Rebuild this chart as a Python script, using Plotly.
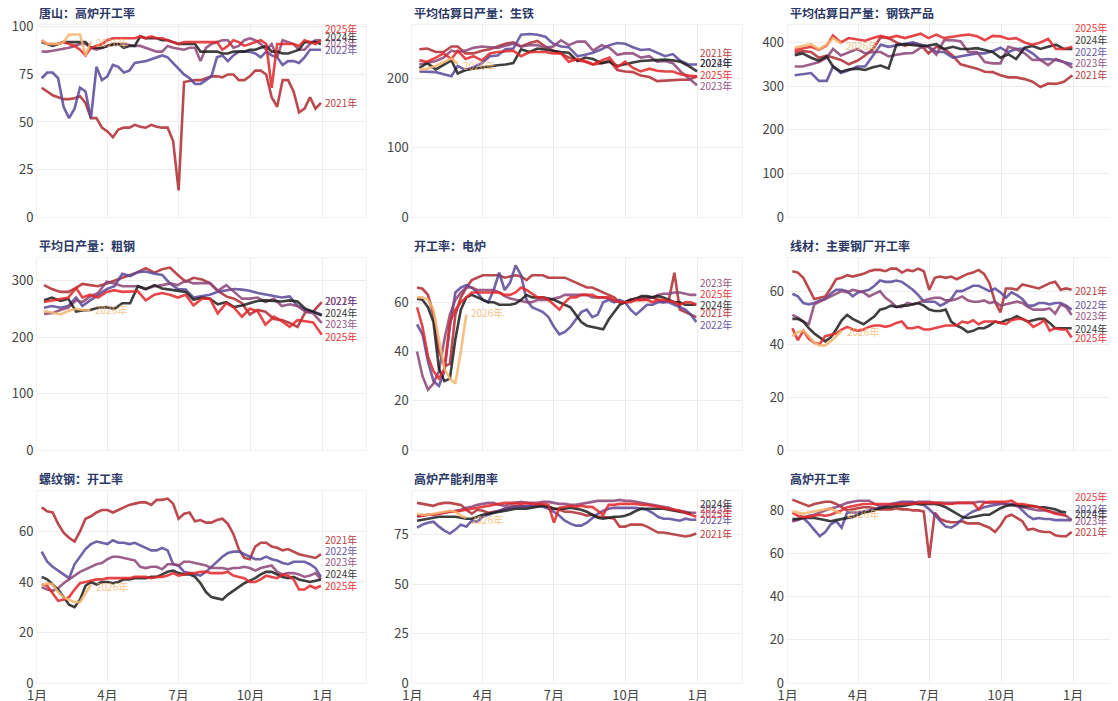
import pandas as pd
import plotly.graph_objects as go
from plotly.subplots import make_subplots

# ---- x grids (dummy year, every series plotted as "same year") ----
WEEKS = pd.date_range("2021-01-07", periods=53, freq="7D")
XUN = []
for m in range(1, 13):
    last = pd.Timestamp(2021, m, 1) + pd.offsets.MonthEnd(0)
    XUN += [pd.Timestamp(2021, m, 10), pd.Timestamp(2021, m, 20), last]

YEARS = [2021, 2022, 2023, 2024, 2025, 2026]

# ---- 唐山：高炉开工率 (weekly) ----
ts_2021 = [68,66,64,63,62,62,62.5,63.5,60,52,52,47,45,42,46,47,47,48.5,47.5,47,48.5,47.5,47,47,40,14,71,71.5,72,72,73,74,74,73.5,75,75,72,72,74,77,77,75,63,58,72,72,66,55,57,63,57,60]
ts_2022 = [73,76,76,73,58,52,57,68,66,52,79,72,74,80,79,76,77,81,81.5,82,83,84,85,84,81,78,75,73,70,70,72,74,84,85,82,85,87,87,87,86,84,87,85,84,80,82,82,81,84,88,88,88]
ts_2023 = [87,87,87.5,88,88.5,89,90,91,91,89,88,89,90,90.5,91,91,90.5,90,90,89,88,87,87,90,89,88.5,88,89,89,82,89,91,92,93,93,89,90,93,94,93,91,88,91,84,93,92,91,88,88,91,93,93]
ts_2024 = [92,91,90,91,92,92,92,92,92,89,89,89,90,91,91,89,90,90,95,94,94,94,93,93,92,91,91,91,91,87,87,87,87,86,86,87,87,87,88,88,89,90,87,87,86,86,87,88,92,92,92,91]
ts_2025 = [93,91,91,91,92,91,90,88,85,89,90,91,93,94,94,94,94,94,95,94,95,94,94,93,92,91,92,92,92,92,92,92,92,88,90,93,92,90,91,92,93,91,68,91,91,91,91,90,93,92,91,93]
ts_2026 = [93,91,91,91,92,96,96,96,85,92]

# ---- 平均估算日产量：生铁 (10-day) ----
pi_2021 = [242,243,238,238,246,246,236,236,240,242,246,250,252,246,251,254,246,240,236,230,226,224,220,222,226,212,210,209,204,202,196,197,198,198,198,203]
pi_2022 = [210,210,209,206,203,218,212,216,222,232,233,242,243,263,264,263,260,250,246,245,232,234,237,242,248,251,250,245,241,242,237,232,235,225,220,220]
pi_2023 = [220,222,225,230,240,238,240,244,246,245,244,247,250,246,248,248,244,246,255,248,253,253,240,248,244,234,236,236,230,232,224,225,222,210,200,190]
pi_2024 = [215,222,213,220,226,207,212,214,216,218,219,220,222,242,238,243,241,240,238,237,225,230,228,222,224,218,221,223,225,226,227,227,226,224,218,210]
pi_2025 = [226,224,230,236,228,240,228,232,226,236,238,239,240,232,238,238,238,236,236,224,228,225,220,226,230,216,224,215,210,214,211,210,210,206,204,203]
pi_2026 = [213,214,218,224,229,221]

# ---- 平均估算日产量：钢铁产品 (10-day) ----
sp_2021 = [377,380,378,365,370,366,360,350,358,370,385,412,410,400,392,398,395,375,390,385,370,350,345,340,333,332,325,320,320,316,310,298,306,305,310,325]
sp_2022 = [325,328,330,312,312,345,330,336,345,345,370,395,390,393,396,400,395,390,378,378,365,368,370,375,375,380,388,378,385,386,375,360,362,360,355,350]
sp_2023 = [345,345,350,355,365,385,370,378,385,375,378,378,368,372,375,376,388,390,372,405,405,403,378,378,355,352,352,390,385,375,360,360,348,362,355,342]
sp_2024 = [371,375,365,358,368,345,333,338,340,337,343,347,340,395,396,394,392,393,396,385,390,385,385,387,383,378,365,373,362,388,392,385,390,395,385,385]
sp_2025 = [383,386,390,383,393,416,400,410,406,404,410,415,410,415,410,415,420,410,418,410,414,416,418,414,405,415,414,408,410,400,395,400,408,385,385,390]
sp_2026 = [388,392,396,384,395,410,398]

# ---- 平均日产量：粗钢 (10-day) ----
cs_2021 = [292,285,280,280,287,294,292,290,295,300,305,310,315,322,314,320,323,310,298,305,302,295,282,272,268,260,240,248,245,232,230,225,218,244,245,262]
cs_2022 = [252,255,252,255,270,255,265,275,285,290,312,308,315,316,312,310,295,285,284,270,272,275,280,282,285,284,282,278,275,272,270,272,255,248,245,240]
cs_2023 = [241,242,248,252,265,262,272,278,298,295,290,290,290,285,290,292,295,292,300,295,295,296,282,292,280,268,268,270,262,268,255,258,255,245,242,225]
cs_2024 = [265,270,264,268,245,247,248,252,253,250,260,260,290,285,292,286,284,282,280,266,270,268,258,262,253,256,260,264,265,264,263,265,263,250,245,238]
cs_2025 = [262,265,268,270,287,270,275,270,280,283,280,280,281,265,275,278,275,270,275,256,268,268,242,260,252,236,250,246,222,236,228,218,230,228,226,204]
cs_2026 = [246,243,240,246,250,248,248]

# ---- 开工率：电炉 (weekly) ----
eaf_2021 = [66,65.5,63,55,40,34,35,55,62,66,69,70,71,71,71,71,70,70.5,71,70.5,69,71,71,71,70,70,70,70,69,68,67,66,66,65,64,63,62,60,60,61,61,61,61.5,62,61,60,61,72,57,56,55,54]
eaf_2022 = [51,47,36,28,26,32,50,64,66,67,66,64,61,60,65,72,65,68,75,71,61,58,57,56,54,50,47,48,50,53,56,57,54,55,60,61,60,61,60,57,55,57,59,59,60,60,60,59,58,57,55,52]
eaf_2023 = [40,30,24.5,27,32,45,55,61,64,66,66,65,65,65,65,64,62.5,61.5,61,60.5,60,60,61,61,61,61.5,62,63,63,63,63,63,62,62,62,61.5,60.5,60,60,61,61.5,62,62,62,63,63.5,63.5,64,64,63.5,63,63]
eaf_2024 = [61.5,61,58,52,33,28,29,45,57,62,63,62,61,60,60,59,59,59,59.5,61,63,62,62,62,61.5,61,60,59,58,55,52,50.5,50,49.5,49,53,56,59,60,61,61.5,62.5,62.5,62,62.5,62,61,60,60,59,59,59]
eaf_2025 = [58,50,38,32,29,33,52,57,60,62,64,64,64,64,64,64,63,63,64,66,65,63.5,62,62,61,59,57,60,62,62,63,63,63,62,62,62,61,60,60,60,61,61,61,60,61,61,60.5,60,59,60,60,59]
eaf_2026 = [62,62,61,57,45,33,29,27,40,55]

# ---- 线材：主要钢厂开工率 (weekly) ----
wr_2021 = [67.5,67,65,61,57,57.5,58,61,64.5,65,66,65.5,66,66.5,67.5,68,68,67.5,68.5,68.5,67,68,67.5,68.5,67.5,60.5,65,65.5,65,65.5,64.5,65.5,66.5,67,68,66.5,63,56,52,61,61,60.5,62.5,62,61.5,61,62,63,63.5,60.5,61,60.5]
wr_2022 = [59,58,55.5,55,55.5,56.5,57,59,60.5,60.5,60,58,59.5,60,60.5,62,64,63.5,63.5,64,63.5,62,60.5,58.5,56,56,56,54.5,55.5,57,60,60,61,62,62,61,60,61,59.5,57.5,59.5,58.5,57,54.5,54.5,55.5,55.5,55,55.5,55.5,54.5,53]
wr_2023 = [51,50,48.5,47.5,55,56,57,58,59,60,59.5,60.5,60,59.5,58,59,60,57.5,56,54,54,55.5,55,55.5,56.5,57,57.5,57.5,56.5,56.5,57,58,56.5,56,56,56.5,55.5,56,54.5,55,55.5,56,55.5,54,53,53,53,53.5,51.5,55,54,51]
wr_2024 = [49.5,49.5,48.5,46,44,42.5,41,42.5,45.5,49,51,49.5,48.5,47.5,49,50.5,53,53.5,54.5,54,54.5,54.5,55,55.5,54.5,53,52.5,52.5,53,48.5,47,46,44.5,45,46,46,47,48.5,48,49,49.5,50.5,49.5,48.5,49,49.5,49.5,48,46,46,46,46]
wr_2025 = [46,41.5,45,42,40.5,40,43,43.5,44,45.5,46.5,45.5,45,45.5,46.5,47,47,46.5,47,48,48.5,46,46,46.5,45.5,45.5,46,46.5,47,47,47,48.5,48,49,47.5,48.5,48.5,48.5,48,47.5,49,49.5,49.5,48.5,46.5,47.5,49,45,46,45.5,45.5,42.5]
wr_2026 = [43,44.5,45,43,40.5,39.5,39.5,41,43,45]

# ---- 螺纹钢：开工率 (weekly) ----
rb_2021 = [69.5,68,67.5,63,59.5,57.5,56,60,65,66,67.5,68.5,68.5,67.5,68.5,69.5,70.5,71,71.5,71.5,70.5,72.5,72.5,73,71,65,67,67.5,64,64.5,63.5,63.5,64.5,65,63,59,53,49.5,49,54,55.5,55.5,54,53.5,52.5,53,52,51,50.5,50,49.5,51]
rb_2022 = [52,48,46,44.5,43,41.5,47,50,53,55,56,55.5,55,56.5,55.5,55.5,55,55.5,54.5,53.5,52.5,52.5,53.5,52.5,47,46.5,44,43.5,43,42.5,44,46,48,50,51.5,52,52,51,50,49,49,50,49,48.5,47.5,47,48,48,48,47,45.5,42]
rb_2023 = [38,37,36.5,37.5,39.5,41,42.5,44,45,46,47,47.5,49,50,50,49.5,49,48.5,46,45.5,46,46,45,47,47,46.5,48,48,47.5,47,46.5,45.5,45.5,45.5,45,45.5,45.5,46,45.5,44.5,45.5,46,46.5,44,43,43.5,43.5,43,42,42.5,43.5,41]
rb_2024 = [42,41,39,37,34,31,30,33,38.5,40,39,40,40,39.5,40,41,41,41.5,41.5,41.5,42,42,43,44,44.5,43.5,43,43,42,39.5,36,34,33.5,33,35,36.5,38,39.5,40.5,41.5,43,44,44,43,42,41.5,42,41,40.5,40,40.5,41]
rb_2025 = [39,38.5,35.5,32.5,33,34,37,39.5,40,40.5,41,41,41.5,41.5,41.5,41.5,41.5,42,42,42,41.5,42,42,42.5,43.5,42.5,43,43.5,43.5,44,44,43.5,43.5,43.5,44,42.5,42,41.5,40,40,41,42.5,42,41.5,43,42.5,41,37,37,38.5,37.5,38.5]
rb_2026 = [38.5,39.5,39,36,34,33,32,32,35.5,39]

# ---- 高炉产能利用率 (weekly) ----
bc_2021 = [91,90.5,90,89.5,90.5,91,91,90.5,90,87.5,85.5,87.5,87,86,86.5,87,88,89,89.5,89.5,89,89.5,90,89.5,89,88,87.5,86.5,86.5,86,85.5,84.5,85,84,84,83.5,83,79,79,80,80,80,79,77.5,76,76,75.5,75,74.5,74,74.5,75.5]
bc_2022 = [78.5,80,81,81.5,79,77,75.5,77.5,80,79,82,81.5,84,85,86,87,88,88.5,89,89,89.5,89.5,89.5,89,88,86.5,84.5,82,80.5,79.5,79.5,81,83.5,85.5,87,88,88.5,88.5,88.5,88.5,88.5,88,87.5,86,84,83,83,82.5,82,83,82.5,82.5]
bc_2023 = [84,84.5,85,85,85.5,86,86.5,87,87.5,88.5,89,90,90.5,91,91,90,89.5,90.5,91,91.5,91,91,91,91.5,91.5,91,90.5,90.5,90,90,90.5,91,91.5,92,92,92,92,92.5,92,92,91.5,91,90.5,90,89.5,89,88.5,87.5,87,86.5,86,86]
bc_2024 = [82,82.5,83,83.5,84,84,84,84,83.5,83,83,84,85,85.5,86,86.5,87,87.5,88,88,88,88.5,89,89.5,89,88,88,88,88.5,88,87.5,86.5,85,83.5,83,83.5,84,84,84.5,85.5,87,88,88,88,88,88,87.5,87,86.5,86,85.5]
bc_2025 = [84.5,84.5,85,85,85.5,86,86.5,86.5,87,87.5,88,88.5,89,89.5,90,90.5,91,91,91,90.5,91,90.5,90.5,90.5,90,81,88.5,89,89.5,89,89.5,89,89,87,85,90,90,90.5,90.5,90.5,90.5,90,90,89.5,89,88.5,88,87.5,87,86,85,84]
bc_2026 = [85.5,85,85,85.5,86,86.5,87,86.5,84.5,83.5]

# ---- 高炉开工率 (weekly) ----
bf_2021 = [85,84,83,82,83,83.5,84,84,83,81.5,80,80.5,81,81.5,81.5,81,80.5,80.5,80.5,81,80.5,80.5,80,80,79.5,58,79,76,75,74.5,74.5,75,74,74,74,73,72,70,73,77,78,76.5,75,71,71.5,70.5,70,70,68.5,68,68,70]
bf_2022 = [75,76,76.5,74,71,68,70,73.5,75,72,79,79,79,79.5,80,80.5,81.5,82,83,83.5,84,84,84,83,82.5,80.5,78,75,72.5,72,73.5,76,78,79.5,80.5,81.5,82,82.5,83,83,83,82.5,80,77.5,76,76.5,76,76,75.5,75.5,75.5,75.5]
bf_2023 = [75,75.5,76.5,77.5,78,79,80,81,81.5,82.5,83.5,84,84.5,84.5,84.5,83,82,82,82.5,83,83.5,83.5,83.5,84,84,84,83.5,83.5,83.5,83.5,83.5,83.5,83.5,83.5,84,84,83.5,83.5,83.5,83,82.5,82,81.5,81,80.5,80,80,79.5,79,78.5,77.5,75.5]
bf_2024 = [76,76,76.5,76.5,76.5,76,75.5,75,75.5,76,76.5,77,78,79,79.5,80,81,81.5,81.5,82,82,82.5,83,83,83,83,83,82.5,81.5,80,78.5,77,76.5,77,77.5,78,78,79.5,81,82,82.5,82.5,82,82,82,81.5,81.5,81,80.5,79.5,79]
bf_2025 = [79,77.5,77,77,77.5,78,77.5,78,79,80,81.5,82,82.5,83,83,83,83,83,83,83,83,83,83,83.5,83.5,83.5,83.5,83.5,83,83,83.5,83.5,83.5,83.5,80.5,83.5,84,84,84,84,84.5,83,83,82.5,82,81.5,80.5,79.5,78.5,78,77.5]
bf_2026 = [79.5,79,78.5,79,79.5,80,80.5,81,79.5,78.5]

COLORS = {2021: "#B02A2E", 2022: "#5A479A", 2023: "#8C4577",
          2024: "#1E1E1E", 2025: "#E3262A", 2026: "#F6B66E"}

# title, x grid, series, y range top, y dtick, label y positions
PANELS = [
    ("唐山：高炉开工率", WEEKS, [ts_2021, ts_2022, ts_2023, ts_2024, ts_2025, ts_2026], 101, 25,
     [60, 88, 92, 95, 99, 92]),
    ("平均估算日产量：生铁", XUN, [pi_2021, pi_2022, pi_2023, pi_2024, pi_2025, pi_2026], 277, 100,
     [238, 222.5, 190, 222.5, 206, 219]),
    ("平均估算日产量：钢铁产品", XUN, [sp_2021, sp_2022, sp_2023, sp_2024, sp_2025, sp_2026], 440, 100,
     [327, 379, 354, 406, 434, 392]),
    ("平均日产量：粗钢", XUN, [cs_2021, cs_2022, cs_2023, cs_2024, cs_2025, cs_2026], 340, 100,
     [264, 264, 223.5, 244, 201.5, 248]),
    ("开工率：电炉", WEEKS, [eaf_2021, eaf_2022, eaf_2023, eaf_2024, eaf_2025, eaf_2026], 78, 20,
     [55.7, 51, 68.2, 59, 63.7, 55.7]),
    ("线材：主要钢厂开工率", WEEKS, [wr_2021, wr_2022, wr_2023, wr_2024, wr_2025, wr_2026], 72.5, 20,
     [60.4, 55, 50.6, 45.9, 42.4, 44.7]),
    ("螺纹钢：开工率", WEEKS, [rb_2021, rb_2022, rb_2023, rb_2024, rb_2025, rb_2026], 76, 20,
     [56.9, 52.5, 47.9, 43.3, 38.7, 38.3]),
    ("高炉产能利用率", WEEKS, [bc_2021, bc_2022, bc_2023, bc_2024, bc_2025, bc_2026], 97, 25,
     [75.6, 82.4, 88.2, 90.8, 85.4, 82.4]),
    ("高炉开工率", WEEKS, [bf_2021, bf_2022, bf_2023, bf_2024, bf_2025, bf_2026], 89, 20,
     [70, 81, 75.3, 78.7, 86.5, 78.4]),
]

FONT = "Noto Sans CJK SC"

fig = make_subplots(rows=3, cols=3, horizontal_spacing=0.0426, vertical_spacing=0.0623)

for i, (title, grid, series, ytop, ydt, laby) in enumerate(PANELS):
    r, c = i // 3 + 1, i % 3 + 1
    for yr, vals, ly in zip(YEARS, series, laby):
        xs = list(grid[:len(vals)])
        fig.add_trace(go.Scatter(x=xs, y=vals, mode="lines", name=f"{yr}年",
                                 line=dict(color=COLORS[yr], width=2.6),
                                 opacity=0.85, showlegend=False, hoverinfo="skip"),
                      row=r, col=c)
        if yr == 2026:
            lx, shift = xs[-1], 3
        else:
            lx, shift = "2021-12-31", 1
        fig.add_annotation(x=lx, y=ly, text=f"{yr}年", showarrow=False,
                           xanchor="left", xshift=shift,
                           font=dict(size=10, color=COLORS[yr], family=FONT),
                           opacity=0.9 if yr != 2026 else 0.8,
                           row=r, col=c)
    n = "" if i == 0 else str(i + 1)
    fig.add_annotation(x=0, y=1, xref=f"x{n} domain", yref=f"y{n} domain",
                       text=f"<b>{title}</b>", showarrow=False,
                       xanchor="left", yanchor="bottom", yshift=2,
                       font=dict(size=12, color="#2B3866", family=FONT))
    fig.update_yaxes(range=[0, ytop], dtick=ydt, row=r, col=c)
    fig.update_xaxes(showticklabels=(r == 3), row=r, col=c)

fig.update_xaxes(type="date", range=["2021-01-01", "2022-02-26"],
                 tick0="2021-01-01", dtick="M3", tickformat="%-m月",
                 showgrid=True, gridcolor="#EDEDED", zeroline=False,
                 showline=True, mirror=True, linecolor="#F2F2F2",
                 ticks="", automargin=False,
                 tickfont=dict(size=13, color="#444", family=FONT))
fig.update_yaxes(showgrid=True, gridcolor="#EDEDED", zeroline=False,
                 showline=True, mirror=True, linecolor="#F2F2F2",
                 ticks="", automargin=False,
                 tickfont=dict(size=13, color="#444", family=FONT))

# page body has an 8px default margin, so the figure is sized to fit inside it
fig.update_layout(
    width=1110, height=693,
    template="plotly_white",
    margin=dict(l=29, r=1, t=17, b=18),
    font=dict(family=FONT),
    plot_bgcolor="white", paper_bgcolor="white",
)

fig.write_html("out.html")
